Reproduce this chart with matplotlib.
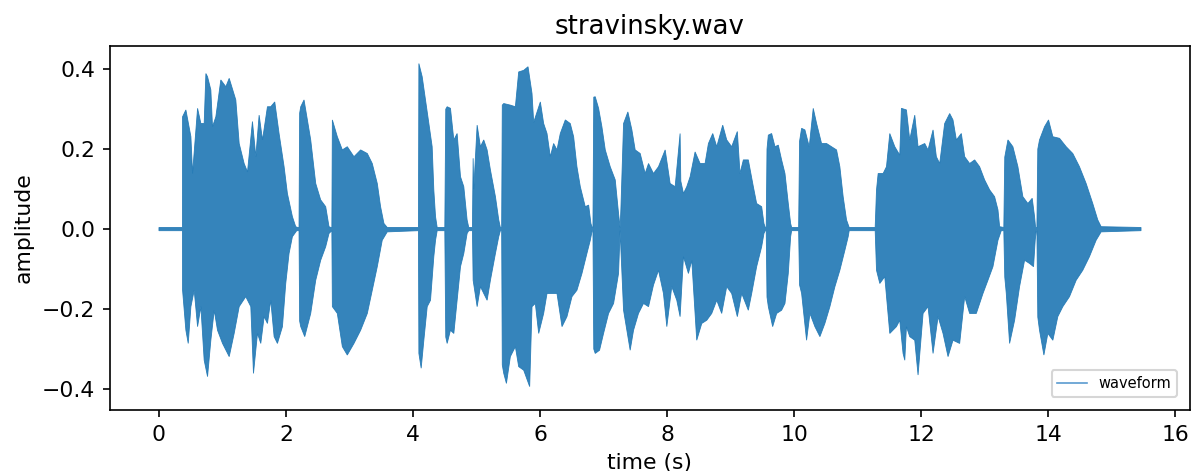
import numpy as np
import matplotlib
matplotlib.use("Agg")
import matplotlib.pyplot as plt
from matplotlib.lines import Line2D

# envelope of the waveform: (time in s, amplitude)
upper_env = [
    (0.00, 0.004), (0.370, 0.004), (0.372, 0.281), (0.424, 0.298), (0.503, 0.231), (0.529, 0.139),
    (0.608, 0.302), (0.660, 0.264), (0.712, 0.264), (0.739, 0.389), (0.765, 0.381), (0.817, 0.348),
    (0.843, 0.256), (0.896, 0.281), (0.974, 0.373), (1.053, 0.356), (1.106, 0.377), (1.210, 0.323),
    (1.263, 0.214), (1.341, 0.164), (1.394, 0.143), (1.472, 0.269), (1.525, 0.181), (1.577, 0.285),
    (1.630, 0.223), (1.708, 0.306), (1.760, 0.306), (1.823, 0.318), (1.891, 0.239), (1.970, 0.156),
    (2.022, 0.089), (2.101, 0.031), (2.153, 0.006), (2.185, 0.004), (2.205, 0.004), (2.215, 0.290),
    (2.232, 0.306), (2.284, 0.323), (2.389, 0.223), (2.468, 0.114), (2.546, 0.073), (2.625, 0.056),
    (2.677, 0.006), (2.705, 0.004), (2.722, 0.004), (2.730, 0.273), (2.808, 0.231), (2.887, 0.198),
    (2.965, 0.206), (3.070, 0.181), (3.175, 0.198), (3.280, 0.189), (3.358, 0.164), (3.437, 0.114),
    (3.489, 0.056), (3.542, 0.014), (3.594, 0.004), (4.085, 0.004), (4.092, 0.414), (4.144, 0.381),
    (4.196, 0.323), (4.249, 0.264), (4.301, 0.206), (4.327, 0.098), (4.354, 0.031), (4.380, 0.004),
    (4.500, 0.004), (4.515, 0.300), (4.537, 0.306), (4.589, 0.302), (4.642, 0.223), (4.694, 0.239),
    (4.747, 0.131), (4.799, 0.106), (4.851, 0.023), (4.877, 0.004), (4.935, 0.004), (4.946, 0.177),
    (4.956, 0.100), (5.009, 0.260), (5.061, 0.206), (5.113, 0.223), (5.166, 0.198), (5.218, 0.148),
    (5.297, 0.081), (5.349, 0.023), (5.375, 0.004), (5.395, 0.004), (5.405, 0.310), (5.428, 0.314),
    (5.532, 0.310), (5.611, 0.306), (5.663, 0.393), (5.742, 0.397), (5.810, 0.406), (5.873, 0.339),
    (5.899, 0.267), (6.004, 0.318), (6.056, 0.264), (6.109, 0.239), (6.161, 0.181), (6.213, 0.214),
    (6.266, 0.198), (6.318, 0.239), (6.397, 0.273), (6.475, 0.264), (6.528, 0.231), (6.580, 0.156),
    (6.633, 0.106), (6.711, 0.056), (6.764, 0.060), (6.800, 0.014), (6.820, 0.004), (6.832, 0.004),
    (6.845, 0.330), (6.868, 0.331), (6.921, 0.302), (6.973, 0.256), (7.026, 0.198), (7.104, 0.156),
    (7.183, 0.123), (7.235, 0.039), (7.260, 0.004), (7.272, 0.050), (7.314, 0.264), (7.382, 0.293),
    (7.445, 0.248), (7.497, 0.198), (7.576, 0.189), (7.654, 0.139), (7.707, 0.164), (7.785, 0.139),
    (7.864, 0.156), (7.969, 0.198), (8.047, 0.114), (8.126, 0.106), (8.204, 0.239), (8.215, 0.120),
    (8.257, 0.089), (8.309, 0.106), (8.362, 0.131), (8.440, 0.193), (8.519, 0.164), (8.597, 0.164),
    (8.650, 0.214), (8.718, 0.239), (8.781, 0.206), (8.875, 0.260), (8.938, 0.223), (9.016, 0.206),
    (9.105, 0.244), (9.147, 0.139), (9.200, 0.173), (9.278, 0.173), (9.357, 0.106), (9.409, 0.064),
    (9.488, 0.056), (9.524, 0.014), (9.545, 0.004), (9.560, 0.004), (9.572, 0.200), (9.593, 0.235),
    (9.645, 0.239), (9.698, 0.206), (9.750, 0.210), (9.802, 0.173), (9.855, 0.139), (9.907, 0.064),
    (9.944, 0.014), (9.960, 0.004), (10.070, 0.004), (10.085, 0.220), (10.117, 0.252), (10.169, 0.248),
    (10.237, 0.206), (10.300, 0.302), (10.353, 0.264), (10.431, 0.214), (10.510, 0.214), (10.588, 0.206),
    (10.667, 0.198), (10.719, 0.156), (10.771, 0.081), (10.824, 0.023), (10.866, 0.004), (11.275, 0.004),
    (11.296, 0.098), (11.322, 0.139), (11.400, 0.139), (11.453, 0.156), (11.505, 0.239), (11.584, 0.206),
    (11.662, 0.185), (11.688, 0.302), (11.767, 0.298), (11.819, 0.223), (11.898, 0.285), (11.950, 0.206),
    (12.055, 0.214), (12.107, 0.198), (12.186, 0.248), (12.238, 0.181), (12.291, 0.164), (12.369, 0.264),
    (12.448, 0.289), (12.500, 0.273), (12.553, 0.223), (12.631, 0.239), (12.684, 0.181), (12.762, 0.164),
    (12.841, 0.173), (12.919, 0.156), (12.998, 0.123), (13.077, 0.098), (13.155, 0.081), (13.208, 0.048),
    (13.234, 0.006), (13.300, 0.004), (13.315, 0.180), (13.365, 0.223), (13.443, 0.206), (13.522, 0.156),
    (13.600, 0.081), (13.679, 0.064), (13.747, 0.077), (13.784, 0.031), (13.800, 0.004), (13.821, 0.004),
    (13.835, 0.200), (13.862, 0.223), (13.941, 0.256), (14.004, 0.273), (14.072, 0.231), (14.177, 0.227),
    (14.282, 0.206), (14.386, 0.189), (14.491, 0.156), (14.596, 0.114), (14.700, 0.064), (14.779, 0.023),
    (14.832, 0.006), (15.460, 0.004),
]

lower_env = [
    (0.00, -0.004), (0.370, -0.004), (0.372, -0.153), (0.424, -0.253), (0.461, -0.286), (0.503, -0.194),
    (0.555, -0.153), (0.608, -0.244), (0.660, -0.194), (0.712, -0.328), (0.765, -0.369), (0.817, -0.278),
    (0.870, -0.203), (0.922, -0.253), (1.001, -0.286), (1.106, -0.319), (1.184, -0.261), (1.263, -0.194),
    (1.367, -0.169), (1.446, -0.194), (1.488, -0.361), (1.551, -0.261), (1.603, -0.286), (1.656, -0.219),
    (1.708, -0.236), (1.760, -0.178), (1.813, -0.269), (1.865, -0.286), (1.944, -0.244), (1.996, -0.136),
    (2.048, -0.061), (2.101, -0.019), (2.169, -0.004), (2.205, -0.004), (2.215, -0.230), (2.232, -0.244),
    (2.295, -0.269), (2.389, -0.211), (2.468, -0.128), (2.546, -0.078), (2.625, -0.044), (2.677, -0.011),
    (2.722, -0.004), (2.730, -0.194), (2.808, -0.211), (2.887, -0.294), (2.965, -0.315), (3.070, -0.286),
    (3.175, -0.253), (3.280, -0.211), (3.358, -0.153), (3.437, -0.094), (3.515, -0.028), (3.594, -0.007),
    (4.085, -0.004), (4.092, -0.311), (4.128, -0.348), (4.170, -0.278), (4.223, -0.194), (4.275, -0.178),
    (4.327, -0.069), (4.354, -0.028), (4.380, -0.004), (4.500, -0.004), (4.515, -0.270), (4.537, -0.286),
    (4.589, -0.253), (4.642, -0.261), (4.694, -0.178), (4.747, -0.094), (4.799, -0.061), (4.851, -0.011),
    (4.877, -0.004), (4.935, -0.004), (4.946, -0.128), (5.009, -0.194), (5.061, -0.144), (5.113, -0.161),
    (5.166, -0.178), (5.218, -0.128), (5.297, -0.061), (5.349, -0.019), (5.375, -0.004), (5.395, -0.004),
    (5.405, -0.340), (5.428, -0.361), (5.470, -0.386), (5.532, -0.319), (5.611, -0.294), (5.663, -0.344),
    (5.742, -0.353), (5.836, -0.394), (5.873, -0.194), (5.925, -0.186), (5.978, -0.261), (6.056, -0.211),
    (6.109, -0.161), (6.187, -0.161), (6.266, -0.161), (6.345, -0.244), (6.423, -0.219), (6.502, -0.169),
    (6.580, -0.153), (6.659, -0.111), (6.737, -0.061), (6.790, -0.028), (6.820, -0.004), (6.832, -0.004),
    (6.845, -0.300), (6.868, -0.311), (6.936, -0.303), (6.999, -0.261), (7.078, -0.211), (7.157, -0.186),
    (7.235, -0.111), (7.260, -0.004), (7.272, -0.050), (7.314, -0.203), (7.418, -0.303), (7.471, -0.253),
    (7.549, -0.211), (7.628, -0.186), (7.707, -0.194), (7.785, -0.140), (7.864, -0.103), (7.942, -0.161),
    (7.995, -0.244), (8.073, -0.144), (8.152, -0.178), (8.204, -0.219), (8.257, -0.069), (8.335, -0.111),
    (8.388, -0.078), (8.466, -0.278), (8.545, -0.236), (8.624, -0.228), (8.702, -0.211), (8.781, -0.178),
    (8.859, -0.211), (8.938, -0.144), (9.016, -0.161), (9.105, -0.219), (9.174, -0.161), (9.278, -0.203),
    (9.331, -0.161), (9.409, -0.094), (9.488, -0.044), (9.524, -0.011), (9.545, -0.004), (9.560, -0.004),
    (9.572, -0.170), (9.593, -0.194), (9.661, -0.244), (9.724, -0.211), (9.802, -0.203), (9.855, -0.186),
    (9.907, -0.111), (9.944, -0.019), (9.960, -0.004), (10.070, -0.004), (10.085, -0.140), (10.117, -0.161),
    (10.195, -0.278), (10.248, -0.211), (10.326, -0.244), (10.405, -0.269), (10.483, -0.236), (10.562, -0.194),
    (10.641, -0.144), (10.719, -0.103), (10.798, -0.053), (10.850, -0.019), (10.866, -0.004), (11.275, -0.004),
    (11.296, -0.103), (11.348, -0.136), (11.426, -0.119), (11.505, -0.261), (11.610, -0.244), (11.662, -0.228),
    (11.714, -0.311), (11.741, -0.328), (11.767, -0.244), (11.819, -0.269), (11.898, -0.278), (11.950, -0.365),
    (12.029, -0.211), (12.107, -0.194), (12.186, -0.311), (12.265, -0.219), (12.343, -0.261), (12.422, -0.319),
    (12.500, -0.278), (12.605, -0.286), (12.684, -0.169), (12.762, -0.211), (12.867, -0.211), (12.972, -0.161),
    (13.050, -0.128), (13.129, -0.094), (13.208, -0.028), (13.260, -0.004), (13.300, -0.004), (13.315, -0.120),
    (13.339, -0.161), (13.391, -0.286), (13.470, -0.228), (13.548, -0.144), (13.627, -0.078), (13.705, -0.086),
    (13.768, -0.094), (13.794, -0.028), (13.810, -0.004), (13.821, -0.004), (13.835, -0.220), (13.862, -0.253),
    (13.931, -0.315), (13.993, -0.261), (14.072, -0.278), (14.150, -0.219), (14.229, -0.194), (14.334, -0.169),
    (14.439, -0.128), (14.543, -0.103), (14.648, -0.069), (14.753, -0.028), (14.832, -0.007), (15.460, -0.004),
]

title = "stravinsky.wav"
wave_color = "#1f77b4"

t_up, a_up = np.array(upper_env).T
t_lo, a_lo = np.array(lower_env).T

fig, ax = plt.subplots(figsize=(7.96, 3.14), dpi=150)
fig.subplots_adjust(left=0.092, right=0.9966, top=0.902, bottom=0.1295)

# one polygon: upper envelope forward, lower envelope back
ax.fill(np.concatenate([t_up, t_lo[::-1]]), np.concatenate([a_up, a_lo[::-1]]),
        color=wave_color, alpha=0.9, linewidth=0.4)

ax.set_xlim(-0.773, 16.23)
ax.set_ylim(-0.4525, 0.4575)
ax.set_xticks(np.arange(0, 17, 2))
ax.set_yticks([-0.4, -0.2, 0.0, 0.2, 0.4])
ax.tick_params(labelsize=10.5)
ax.set_title(title, fontsize=12.5)
ax.set_xlabel("time (s)", fontsize=10.5)
ax.set_ylabel("amplitude", fontsize=10.5)

handle = Line2D([], [], color="#5a9bd0", linewidth=0.8)
ax.legend([handle], ["waveform"], loc="lower right", fontsize=7,
          borderaxespad=0.9)

fig.savefig("out.png", dpi=150)
